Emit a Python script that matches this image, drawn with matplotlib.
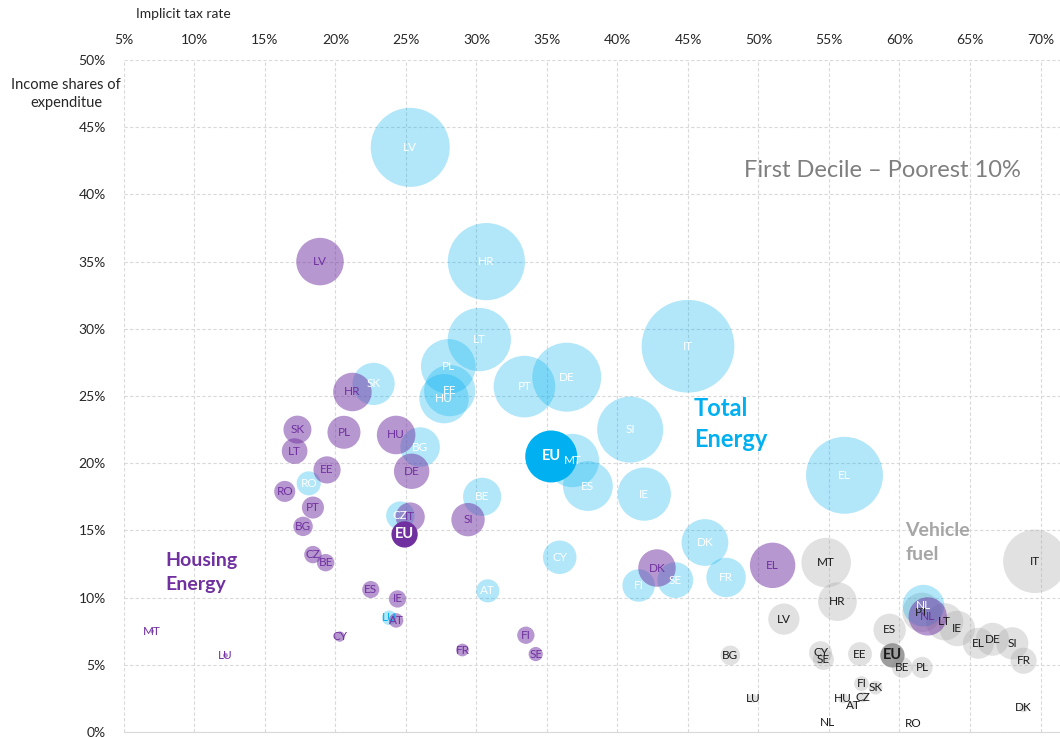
import numpy as np
import matplotlib.pyplot as plt

plt.rcParams['font.family'] = ['Lato', 'DejaVu Sans']

# x = implicit tax rate (%), y = income share of expenditure (%)
# bubble size = x * y (tax paid as share of expenditure)

# Total energy
tot_c = ['LV', 'HR', 'LT', 'PL', 'SK', 'EE', 'HU', 'PT', 'DE', 'SI', 'IE', 'IT', 'EL', 'MT',
         'ES', 'BG', 'BE', 'CZ', 'RO', 'CY', 'AT', 'DK', 'FR', 'SE', 'FI', 'NL', 'LU']
tot_x = [25.3, 30.7, 30.2, 28.0, 22.7, 28.1, 27.7, 33.4, 36.4, 40.9, 41.9, 45.0, 56.1, 36.8,
         37.9, 26.0, 30.4, 24.6, 18.1, 35.9, 30.8, 46.2, 47.7, 44.1, 41.5, 61.7, 23.8]
tot_y = [43.5, 35.0, 29.2, 27.2, 25.9, 25.4, 24.8, 25.7, 26.4, 22.5, 17.7, 28.7, 19.1, 20.2,
         18.3, 21.2, 17.5, 16.1, 18.5, 13.0, 10.5, 14.1, 11.5, 11.3, 10.9, 9.4, 8.5]

# Housing energy
hou_c = ['LV', 'HR', 'SK', 'LT', 'PL', 'HU', 'EE', 'DE', 'RO', 'PT', 'BG', 'IT', 'CZ', 'BE',
         'ES', 'IE', 'AT', 'CY', 'MT', 'LU', 'SI', 'FI', 'FR', 'SE', 'DK', 'EL', 'NL']
hou_x = [18.9, 21.2, 17.3, 17.1, 20.6, 24.3, 19.4, 25.4, 16.4, 18.4, 17.7, 25.3, 18.4, 19.3,
         22.5, 24.4, 24.3, 20.3, 7.0, 12.2, 29.4, 33.5, 29.0, 34.2, 42.8, 51.0, 62.0]
hou_y = [35.0, 25.3, 22.5, 20.9, 22.3, 22.1, 19.5, 19.4, 17.9, 16.7, 15.3, 16.0, 13.2, 12.6,
         10.6, 9.9, 8.3, 7.1, 7.5, 5.7, 15.8, 7.2, 6.1, 5.8, 12.2, 12.4, 8.6]

# Vehicle fuel
veh_c = ['MT', 'HR', 'LV', 'IT', 'ES', 'PT', 'LT', 'IE', 'EL', 'DE', 'SI', 'FR', 'BE', 'PL',
         'CY', 'SE', 'EE', 'FI', 'SK', 'HU', 'CZ', 'AT', 'NL', 'RO', 'LU', 'BG', 'DK']
veh_x = [54.8, 55.6, 51.8, 69.6, 59.3, 61.6, 63.2, 64.1, 65.6, 66.6, 68.0, 68.8, 60.2, 61.6,
         54.4, 54.6, 57.2, 57.3, 58.3, 56.0, 57.4, 56.7, 54.9, 61.0, 49.6, 48.0, 68.8]
veh_y = [12.6, 9.7, 8.4, 12.7, 7.6, 8.9, 8.2, 7.7, 6.6, 6.9, 6.6, 5.3, 4.8, 4.8,
         5.9, 5.4, 5.8, 3.6, 3.3, 2.5, 2.6, 2.0, 0.7, 0.6, 2.5, 5.7, 1.8]

# EU averages: total, housing, vehicle
eu_x = [35.3, 24.9, 59.5]
eu_y = [20.5, 14.7, 5.7]

BLUE = '#00B0F0'
PURPLE = '#7030A0'
GREY = '#A6A6A6'


def bubble_s(x, y):
    # bubble width proportional to x*y
    r_px = 0.0359 * np.asarray(x) * np.asarray(y)
    return (2 * r_px * 0.72) ** 2


fig = plt.figure(figsize=(10.6, 7.38), dpi=100)
ax = fig.add_axes([124 / 1060, 6 / 738, 936 / 1060, 672 / 738])
ax.set_xlim(5, 5 + 936 / 14.1)
ax.set_ylim(0, 50)

ax.scatter(veh_x, veh_y, s=bubble_s(veh_x, veh_y), color=GREY, alpha=0.33, linewidths=0, zorder=2)
ax.scatter(tot_x, tot_y, s=bubble_s(tot_x, tot_y), color=BLUE, alpha=0.3, linewidths=0, zorder=3)
ax.scatter(hou_x, hou_y, s=bubble_s(hou_x, hou_y), color=PURPLE, alpha=0.5, linewidths=0, zorder=4)
ax.scatter(eu_x, eu_y, s=bubble_s(eu_x, eu_y), color=[BLUE, PURPLE, '#8C8C8C'],
           alpha=[1.0, 1.0, 0.85], linewidths=0, zorder=5)

# data labels
for c, x, y in zip(veh_c, veh_x, veh_y):
    ax.text(x, y, c, ha='center', va='center', fontsize=8.5, color='#1A1A1A', zorder=6)
for c, x, y in zip(tot_c, tot_x, tot_y):
    col = 'white' if 0.0359 * x * y > 10 else BLUE
    ax.text(x, y, c, ha='center', va='center', fontsize=8.5, color=col, zorder=6)
for c, x, y in zip(hou_c, hou_x, hou_y):
    ax.text(x, y, c, ha='center', va='center', fontsize=8.5, color=PURPLE, zorder=6)
for x, y, col in zip(eu_x, eu_y, ['white', 'white', '#1A1A1A']):
    ax.text(x, y, 'EU', ha='center', va='center', fontsize=10.5, fontweight='bold', color=col, zorder=7)

# axes styling
ax.xaxis.tick_top()
ax.set_xticks(np.arange(5, 71, 5))
ax.set_yticks(np.arange(0, 51, 5))
ax.set_xticklabels([f'{v}%' for v in range(5, 71, 5)])
ax.set_yticklabels([f'{v}%' for v in range(0, 51, 5)])
ax.tick_params(axis='both', length=0, labelsize=10, labelcolor='#262626')
ax.tick_params(axis='x', pad=10)
ax.tick_params(axis='y', pad=13)
ax.grid(True, color='#D9D9D9', lw=0.8, ls=(0, (3, 2)))
ax.set_axisbelow(True)
for side in ['top', 'left', 'right']:
    ax.spines[side].set_visible(False)
ax.spines['bottom'].set_color('#D9D9D9')

# annotations
fig.text(183 / 1060, 1 - 14 / 738, 'Implicit tax rate', ha='center', va='center',
         fontsize=10, color='#262626')
fig.text(66 / 1060, 1 - 94 / 738, 'Income shares of\nexpenditue', ha='center', va='center',
         fontsize=10.5, color='#262626', linespacing=1.3)
ax.text(58.8, 41.8, 'First Decile \u2013 Poorest 10%', ha='center', va='center',
        fontsize=17, color='#7F7F7F', zorder=8)
ax.text(45.4, 22.9, 'Total\nEnergy', ha='left', va='center', fontsize=17,
        fontweight='bold', color=BLUE, linespacing=1.4, zorder=8)
ax.text(7.9, 11.9, 'Housing\nEnergy', ha='left', va='center', fontsize=14,
        fontweight='bold', color=PURPLE, linespacing=1.5, zorder=8)
ax.text(60.4, 14.1, 'Vehicle\nfuel', ha='left', va='center', fontsize=14,
        fontweight='bold', color=GREY, linespacing=1.5, zorder=8)

fig.savefig('out.png', dpi=100)
